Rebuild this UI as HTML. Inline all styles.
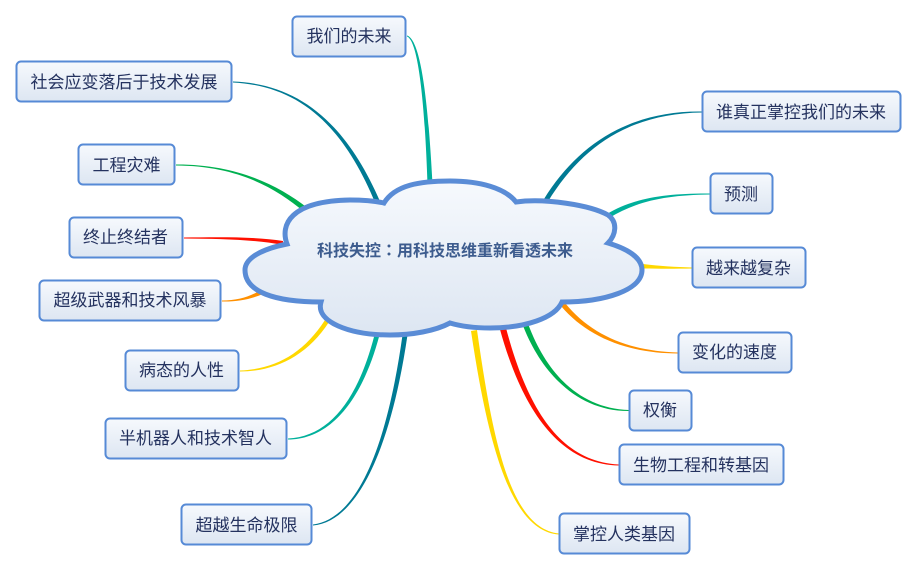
<!DOCTYPE html>
<html><head><meta charset="utf-8">
<style>
html,body{margin:0;padding:0;background:#fff;width:918px;height:571px;overflow:hidden}
svg{display:block}
.n{font-family:"Liberation Sans","Noto Sans CJK SC",sans-serif;font-size:17px;fill:#24325f;text-anchor:middle}
.b{fill:url(#g);stroke:#568ad6;stroke-width:2}
</style></head><body>
<svg width="918" height="571" viewBox="0 0 918 571" xmlns="http://www.w3.org/2000/svg">
<defs>
<linearGradient id="g" x1="0" y1="0" x2="0" y2="1"><stop offset="0" stop-color="#f6f9fd"/><stop offset="1" stop-color="#dde6f2"/></linearGradient>
</defs>
<path fill="#00b09b" d="M407 36.500C419 41 425 110 427.5 184L432.5 184C428.500 110 422 40 407 35.500Z"/>
<path fill="#007a94" d="M233 81.500C300 83.800 346.500 124 380.300 202L375.700 204C343.500 126 300 86 233 82.500Z"/>
<path fill="#00b050" d="M176 164.500C235 164.200 276.500 184 307.600 208L304.400 212C273.500 186 235 165.800 176 165.500Z"/>
<path fill="#ff1000" d="M184 237.500C220 237.200 255 236.500 283 241L283 245C255 239.500 220 238.800 184 238.500Z"/>
<path fill="#ff9000" d="M222 300.500C238 300.200 249 297 261 290L263 294C251 299 238 301.800 222 301.500Z"/>
<path fill="#ffd800" d="M240 370.500C275 369 303 354 325 320L329 322C307 356 275 371.500 240 371.500Z"/>
<path fill="#00b09b" d="M288 438.500C330 436.500 358 399 374.500 335L379.500 335C362 401 330 439.500 288 439.500Z"/>
<path fill="#007a94" d="M313 524.500C360 518.500 388 439 402.500 335L407.500 335C392 441 360 521.500 313 525.500Z"/>
<path fill="#007a94" d="M702 111.500C630 110.500 578 144 544 199L548 201.500C582 146 630 113.500 702 112.500Z"/>
<path fill="#00b09b" d="M710 193.500C665 193.200 634 198 607 214L609 218C636 201.500 665 195 710 194.500Z"/>
<path fill="#ffd800" d="M692 267.500C675 267 660 266 643 264L643 268.500C660 268.800 675 268.800 692 268.500Z"/>
<path fill="#ff9000" d="M678 352.500C630 351 592 336 565 303L561 306C588 338 630 353.500 678 353.500Z"/>
<path fill="#00b050" d="M629 410C580 408.500 547 374 528.500 325L523.500 327C543 376 580 411.500 629 411Z"/>
<path fill="#ff1000" d="M619 464.500C560 461.500 527.500 409 506 328L500 329.500C522.500 411 560 464.500 619 465.500Z"/>
<path fill="#ffd800" d="M559 533.500C510 528.500 492.500 439 477 330L471 331C487.500 441 510 531.500 559 534.500Z"/>

<path fill="url(#g)" stroke="#5a8cd6" stroke-width="5" stroke-linejoin="miter" d="M384 203C395 185 420 181 450 181C480 181 505 188 516 202C545 198 590 205 608 215C618 222 616 235 608 243C628 249 642 258 642 270C642 290 605 302 562 302C555 318 525 328 490 328C475 328 460 326 450 323C435 331 412 335 390 335C350 335 315 322 321 302C275 302 245 292 245 270C245 258 262 249 287 244C280 225 290 201 350 200C362 200 375 201 384 203Z"/>
<text x="445" y="256" text-anchor="middle" font-family="'Liberation Sans','Noto Sans CJK SC',sans-serif" font-size="16" font-weight="bold" fill="#3d5c8e">科技失控<tspan font-family="'Noto Sans CJK TC',sans-serif">：</tspan>用科技思维重新看透未来</text>

<rect class="b" x="292.500" y="16.500" width="113" height="40" rx="4.500"/><text class="n" x="349" y="42">我们的未来</text>
<rect class="b" x="16.500" y="61.500" width="215" height="40" rx="4.500"/><text class="n" x="124" y="88">社会应变落后于技术发展</text>
<rect class="b" x="78.500" y="144.500" width="96" height="40" rx="4.500"/><text class="n" x="126.500" y="171">工程灾难</text>
<rect class="b" x="69.500" y="217.500" width="113" height="40" rx="4.500"/><text class="n" x="125.500" y="243">终止终结者</text>
<rect class="b" x="39.500" y="280.500" width="181" height="40" rx="4.500"/><text class="n" x="130" y="306">超级武器和技术风暴</text>
<rect class="b" x="125.500" y="350.500" width="113" height="40" rx="4.500"/><text class="n" x="181.500" y="376">病态的人性</text>
<rect class="b" x="105.500" y="418.500" width="181" height="40" rx="4.500"/><text class="n" x="195.500" y="444">半机器人和技术智人</text>
<rect class="b" x="181.500" y="504.500" width="130" height="40" rx="4.500"/><text class="n" x="246.500" y="531">超越生命极限</text>
<rect class="b" x="702.500" y="91.500" width="198" height="40" rx="4.500"/><text class="n" x="801" y="118">谁真正掌控我们的未来</text>
<rect class="b" x="710.500" y="173.500" width="62" height="40" rx="4.500"/><text class="n" x="741" y="200">预测</text>
<rect class="b" x="692.500" y="247.500" width="113" height="40" rx="4.500"/><text class="n" x="748.500" y="274">越来越复杂</text>
<rect class="b" x="678.500" y="332.500" width="113" height="40" rx="4.500"/><text class="n" x="734.500" y="358">变化的速度</text>
<rect class="b" x="629.500" y="390.500" width="62" height="40" rx="4.500"/><text class="n" x="660" y="416">权衡</text>
<rect class="b" x="619.500" y="444.500" width="164" height="40" rx="4.500"/><text class="n" x="701" y="471">生物工程和转基因</text>
<rect class="b" x="559.500" y="513.500" width="130" height="40" rx="4.500"/><text class="n" x="624" y="540">掌控人类基因</text>
</svg>
</body></html>
